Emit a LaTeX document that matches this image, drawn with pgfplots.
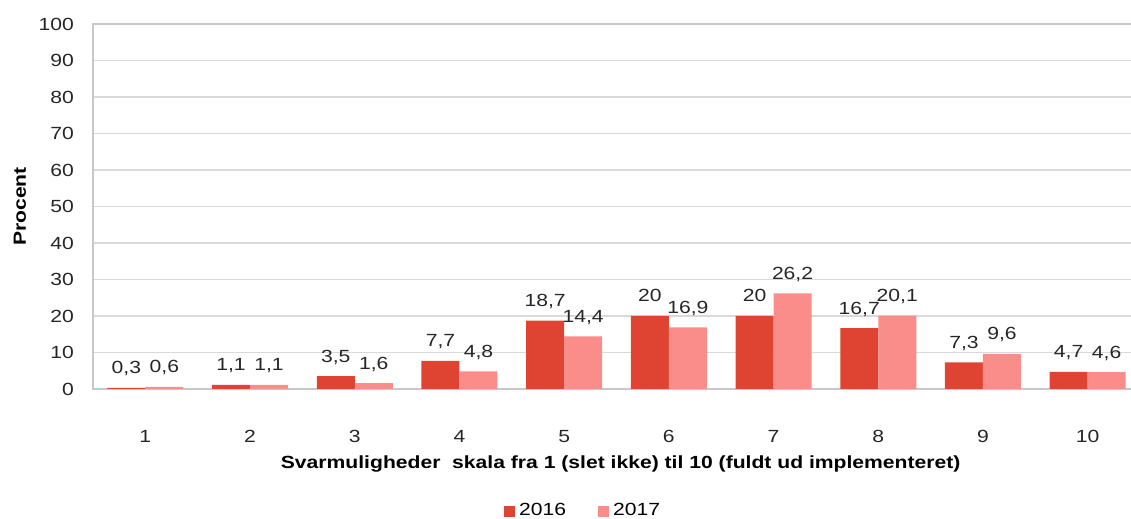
\documentclass[border=0pt]{standalone}
\usepackage{pgfplots}
\pgfplotsset{compat=1.18}
\usepackage{fontspec}
\setmainfont{Liberation Sans}[FakeStretch=1.2]
\definecolor{cA}{HTML}{DF4433}
\definecolor{cB}{HTML}{FA8C8A}
\definecolor{gridc}{HTML}{D9D9D9}
\definecolor{axc}{HTML}{C8C8C8}
\newcommand{\fs}{\fontsize{8.8}{10.5}\selectfont}
\begin{document}
\begin{tikzpicture}
\path[use as bounding box] (-46.5pt,-65pt) rectangle (519pt,194.5pt);
\begin{axis}[
  at={(0,0)}, anchor=south west,
  scale only axis, width=523.5pt, height=182.5pt,
  xmin=0.5, xmax=10.5, ymin=0, ymax=100,
  ybar=0pt, bar width=19pt,
  xtick={1,...,10}, ytick={0,10,...,100},
  major tick length=0pt,
  ymajorgrids, grid style={gridc, line width=0.6pt},
  axis line style={axc, line width=0.6pt},
  /pgf/number format/assume math mode=true,
  /pgf/number format/use comma,
  tick label style={font=\fs, text=black!85},
  xticklabel style={yshift=-17pt},
  yticklabel style={xshift=-6pt},
  xlabel={\bfseries Svarmuligheder\ \ skala fra 1 (slet ikke) til 10 (fuldt ud implementeret)},
  xlabel style={font=\fs, at={(axis description cs:0.504,-0.205)}, anchor=center},
  ylabel={\bfseries Procent},
  ylabel style={font=\fs, at={(axis description cs:-0.0697,0.5)}, anchor=center},
  nodes near coords,
  nodes near coords style={font=\fs, text=black!85, anchor=base, yshift=7pt,
    /pgf/number format/fixed, /pgf/number format/precision=1},
  legend columns=2,
  legend style={draw=none, fill=none, font=\fs, at={(axis description cs:0.469,-0.335)}, anchor=center,
    /tikz/every even column/.append style={column sep=14pt}},
  legend image code/.code={\fill[#1] (0pt,-2.75pt) rectangle (5.5pt,2.75pt);},
]
\addplot[draw=none, fill=cA] coordinates {(1,0.3) (2,1.1) (3,3.5) (4,7.7) (5,18.7) (6,20) (7,20) (8,16.7) (9,7.3) (10,4.7)};
\addplot[draw=none, fill=cB] coordinates {(1,0.6) (2,1.1) (3,1.6) (4,4.8) (5,14.4) (6,16.9) (7,26.2) (8,20.1) (9,9.6) (10,4.6)};
\legend{2016,2017}
\end{axis}
\end{tikzpicture}
\end{document}
